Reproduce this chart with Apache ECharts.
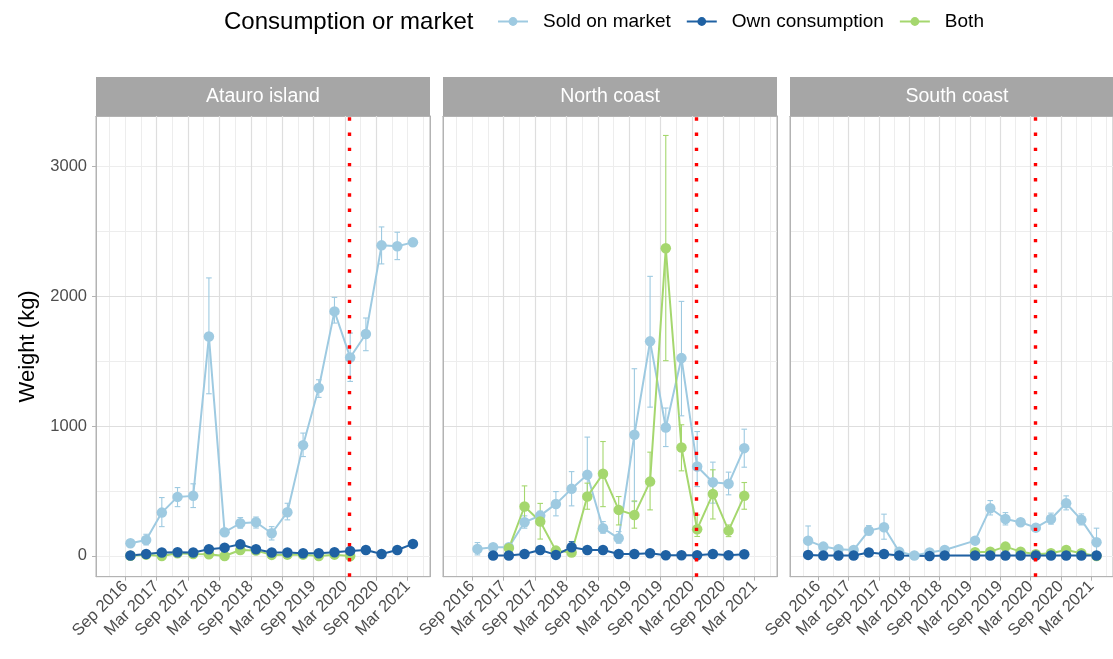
<!DOCTYPE html>
<html>
<head>
<meta charset="utf-8">
<script src="https://cdn.jsdelivr.net/npm/echarts@6/dist/echarts.min.js"></script>
<style>
  html, body { margin: 0; padding: 0; background: #ffffff; }
  #chart { width: 1113px; height: 659px; }
</style>
</head>
<body>
<div id="chart"></div>
<script>
// ---- Data ---------------------------------------------------------------
// Quarterly survey months (first month of each quarter)
const quarters = ['2016-07', '2016-10', '2017-01', '2017-04', '2017-07', '2017-10',
  '2018-01', '2018-04', '2018-07', '2018-10', '2019-01', '2019-04', '2019-07', '2019-10',
  '2020-01', '2020-04', '2020-07', '2020-10', '2021-01', '2021-04'];

const regions = ['Atauro island', 'North coast', 'South coast'];
const groups = ['Sold on market', 'Own consumption', 'Both'];
const tickLabels = ['Sep 2016', 'Mar 2017', 'Sep 2017', 'Mar 2018', 'Sep 2018',
  'Mar 2019', 'Sep 2019', 'Mar 2020', 'Sep 2020', 'Mar 2021'];
const weightTicks = [0, 1000, 2000, 3000];
const eventDate = '2020-03-26';

// Mean weight (kg) per quarter, with lower / upper error limits
const atauroSold = [null, 98, 123, 334, 455, 463, 1692, 183, 252, 260, 175, 337, 854, 1294, 1885, 1530, 1711, 2394, 2387, 2417];
const atauroSoldLow = [null, null, 85, 226, 380, 373, 1250, null, 214, 215, 123, 278, 766, 1222, 1795, 1345, 1582, 2251, 2284, null];
const atauroSoldHigh = [null, null, 167, 450, 527, 556, 2143, null, 296, 300, 226, 406, 947, 1358, 1993, 1718, 1834, 2536, 2495, null];
const atauroOwn = [null, 3, 15, 26, 28, 26, 51, 64, 90, 51, 26, 26, 21, 21, 28, 39, 46, 15, 46, 93];
const atauroOwnLow = [null, null, null, null, null, null, null, null, null, 36, null, null, null, null, null, null, null, null, null, null];
const atauroOwnHigh = [null, null, null, null, null, null, null, null, null, 66, null, null, null, null, null, null, null, null, null, null];
const atauroBoth = [null, 2, 10, 0, 20, 15, 13, 0, 46, 41, 8, 10, 10, 0, 10, 0, null, null, null, null];

const northSold = [null, 54, 67, 67, 260, 311, 401, 517, 625, 214, 136, 934, 1654, 990, 1525, 689, 568, 556, 831, null];
const northSoldLow = [null, 8, null, null, 214, 270, 309, 386, 484, 175, 98, 419, 1147, 843, 1080, 535, 407, 471, 684, null];
const northSoldHigh = [null, 103, null, null, 309, 345, 496, 650, 916, 265, 188, 1443, 2155, 1140, 1962, 959, 723, 646, 977, null];
const northOwn = [null, null, 3, 3, 15, 46, 8, 67, 46, 46, 15, 15, 21, 5, 5, 5, 15, 5, 13, null];
const northOwnLow = [null, null, null, null, null, null, null, 21, null, null, null, null, null, null, null, null, null, null, null, null];
const northOwnHigh = [null, null, null, null, null, null, null, 110, null, null, null, null, null, null, null, null, null, null, null, null];
const northBoth = [null, null, null, 59, 381, 265, 41, 26, 458, 633, 355, 316, 573, 2371, 836, 206, 478, 195, 463, null];
const northBothLow = [null, null, null, null, 230, 130, null, null, 360, 380, 239, 214, 355, 1505, 656, 150, 285, 149, 360, null];
const northBothHigh = [null, null, null, null, 540, 405, null, null, 561, 882, 458, 424, 800, 3241, 1011, 316, 664, 239, 566, null];

const southSold = [118, 72, 51, 46, 195, 221, 33, 3, 26, 46, null, 118, 368, 285, 260, 218, 285, 406, 278, 106];
const southSoldLow = [5, null, null, null, 162, 129, null, null, null, null, null, null, 316, 239, null, null, 245, 355, 239, 0];
const southSoldHigh = [231, null, null, null, 234, 322, null, null, null, null, null, null, 427, 334, null, null, 330, 463, 324, 214];
const southOwn = [8, 3, 3, 3, 26, 15, 3, null, 0, 3, null, 3, 3, 3, 3, 3, 3, 3, 3, 3];
const southBoth = [null, null, null, null, null, null, null, null, null, null, null, 28, 33, 72, 33, 13, 21, 46, 21, 0];

// ---- Layout and style -----------------------------------------------------
const FONT = '"Liberation Sans", Arial, Helvetica, sans-serif';
const colors = { 'Sold on market': '#9ecae1', 'Own consumption': '#1f61a3', 'Both': '#a5d76e' };
const drawOrder = [0, 2, 1];             // Sold, Both, Own (own consumption on top)
const panelLeft = [96, 443, 790];
const panelWidth = 334;
const panelTop = 116;
const panelHeight = 460.7;
const stripTop = 77;
const dateRange = ['2016-03-14', '2021-07-09'];
const weightRange = [-160, 3391];

const panels = [
  { region: regions[0], series: [
    { group: groups[0], mean: atauroSold, low: atauroSoldLow, high: atauroSoldHigh },
    { group: groups[1], mean: atauroOwn, low: atauroOwnLow, high: atauroOwnHigh },
    { group: groups[2], mean: atauroBoth, low: null, high: null } ] },
  { region: regions[1], series: [
    { group: groups[0], mean: northSold, low: northSoldLow, high: northSoldHigh },
    { group: groups[1], mean: northOwn, low: northOwnLow, high: northOwnHigh },
    { group: groups[2], mean: northBoth, low: northBothLow, high: northBothHigh } ] },
  { region: regions[2], series: [
    { group: groups[0], mean: southSold, low: southSoldLow, high: southSoldHigh },
    { group: groups[1], mean: southOwn, low: null, high: null },
    { group: groups[2], mean: southBoth, low: null, high: null } ] }
];

// Months elapsed since March 2016 (fractional for a day of month)
function toMonths(s) {
  const parts = s.split('-').map(Number);
  const y = parts[0], m = parts[1], d = parts[2] || 1;
  const daysInMonth = new Date(y, m, 0).getDate();
  return (y - 2016) * 12 + (m - 3) + (d - 1) / daysInMonth;
}

const tMin = toMonths(dateRange[0]);
const tMax = toMonths(dateRange[1]);
const halfYearTicks = tickLabels.map((_, i) => i + 1);   // in half-years since March 2016

const minorLine = { color: '#ededed', width: 1 };
const majorLine = { color: '#dedede', width: 1.2 };
const borderLine = { color: '#b3b3b3', width: 1 };

function renderErrorBar(params, api) {
  const x = api.value(0);
  const lo = api.coord([x, api.value(1)]);
  const hi = api.coord([x, api.value(2)]);
  const cap = 2.8;
  const style = { stroke: api.visual('color'), lineWidth: 1.1, fill: null };
  return {
    type: 'group',
    children: [
      { type: 'line', shape: { x1: lo[0], y1: lo[1], x2: hi[0], y2: hi[1] }, style: style },
      { type: 'line', shape: { x1: lo[0] - cap, y1: lo[1], x2: lo[0] + cap, y2: lo[1] }, style: style },
      { type: 'line', shape: { x1: hi[0] - cap, y1: hi[1], x2: hi[0] + cap, y2: hi[1] }, style: style }
    ]
  };
}

const grids = [], xAxes = [], yAxes = [], graphics = [];
const lineSeries = [], errorSeries = [], pointSeries = [], eventSeries = [];

panels.forEach((p, r) => {
  const left = panelLeft[r];
  grids.push({ left: left, top: panelTop, width: panelWidth, height: panelHeight,
    show: true, backgroundColor: '#ffffff', borderColor: '#b3b3b3', borderWidth: 1 });

  // quarterly grid (data axis) and half-yearly labelled axis
  xAxes.push({
    type: 'value', gridIndex: r, min: tMin, max: tMax, splitNumber: 20, position: 'top', z: 0,
    axisLine: { show: true, onZero: false, lineStyle: borderLine },
    axisTick: { show: false }, axisLabel: { show: false },
    splitLine: { show: true, showMinLine: false, showMaxLine: false, lineStyle: minorLine }
  });
  xAxes.push({
    type: 'value', gridIndex: r, min: tMin / 6, max: tMax / 6, splitNumber: 10, position: 'bottom', z: 1,
    axisLine: { show: true, onZero: false, lineStyle: borderLine },
    axisTick: { show: true, length: 4, customValues: halfYearTicks, lineStyle: borderLine },
    axisLabel: {
      show: true, customValues: halfYearTicks, rotate: 45, margin: 7,
      fontSize: 16.5, fontFamily: FONT, color: '#4d4d4d',
      formatter: v => tickLabels[Math.round(v) - 1] || ''
    },
    splitLine: { show: true, showMinLine: false, showMaxLine: false, lineStyle: majorLine }
  });

  yAxes.push({
    type: 'value', gridIndex: r, min: weightRange[0], max: weightRange[1], splitNumber: 7, position: 'right', z: 0,
    axisLine: { show: true, onZero: false, lineStyle: borderLine },
    axisTick: { show: false }, axisLabel: { show: false },
    splitLine: { show: true, showMinLine: false, showMaxLine: false, lineStyle: minorLine }
  });
  yAxes.push({
    type: 'value', gridIndex: r, min: weightRange[0], max: weightRange[1], splitNumber: 4, position: 'left', z: 1,
    name: r === 0 ? 'Weight (kg)' : '', nameLocation: 'middle', nameGap: 57,
    nameTextStyle: { fontSize: 22, fontFamily: FONT, color: '#000000' },
    axisLine: { show: true, onZero: false, lineStyle: borderLine },
    axisTick: { show: r === 0, length: 4, customValues: weightTicks, lineStyle: borderLine },
    axisLabel: { show: r === 0, customValues: weightTicks, margin: 9,
      fontSize: 16.5, fontFamily: FONT, color: '#4d4d4d',
      formatter: v => String(Math.round(v)) },
    splitLine: { show: true, showMinLine: false, showMaxLine: false, lineStyle: majorLine }
  });

  // facet strip
  graphics.push({ type: 'rect', z: 10, shape: { x: left, y: stripTop, width: panelWidth, height: panelTop - stripTop },
    style: { fill: '#a6a6a6' } });
  graphics.push({ type: 'text', z: 11, x: left + panelWidth / 2, y: (stripTop + panelTop) / 2 + 0.5,
    style: { text: p.region, fill: '#ffffff', fontSize: 19.5, fontFamily: FONT,
      align: 'center', verticalAlign: 'middle', textAlign: 'center', textVerticalAlign: 'middle' } });

  const xi = 2 * r, yi = 2 * r;
  drawOrder.forEach(g => {
    const s = p.series[g];
    const color = colors[s.group];
    const pts = [];
    const bars = [];
    s.mean.forEach((v, i) => {
      if (v === null) return;
      const t = toMonths(quarters[i]);
      pts.push([t, v]);
      if (s.low && s.low[i] !== null && s.high[i] !== null) bars.push([t, s.low[i], s.high[i]]);
    });
    lineSeries.push({
      type: 'line', name: s.group, xAxisIndex: xi, yAxisIndex: yi, data: pts,
      symbol: 'circle', showSymbol: false, silent: true, z: 2,
      lineStyle: { width: 2, color: color }, itemStyle: { color: color }
    });
    if (bars.length) {
      errorSeries.push({
        type: 'custom', name: s.group, xAxisIndex: xi, yAxisIndex: yi, data: bars,
        encode: { x: 0, y: [1, 2] }, renderItem: renderErrorBar, silent: true, z: 3,
        itemStyle: { color: color }
      });
    }
    pointSeries.push({
      type: 'scatter', name: s.group, xAxisIndex: xi, yAxisIndex: yi, data: pts,
      symbol: 'circle', symbolSize: 10.5, silent: true, z: 4,
      itemStyle: { color: color, opacity: 1 }
    });
  });

  eventSeries.push({
    type: 'line', name: 'Event', xAxisIndex: xi, yAxisIndex: yi, data: [], z: 6, silent: true,
    markLine: {
      silent: true, symbol: ['none', 'none'], label: { show: false }, animation: false,
      lineStyle: { color: '#ff0000', width: 3.4, type: [3.4, 11.8], cap: 'butt', opacity: 1 },
      emphasis: { disabled: true },
      data: [{ xAxis: toMonths(eventDate) }]
    }
  });
});

const chart = echarts.init(document.getElementById('chart'), null, { renderer: 'canvas' });
chart.setOption({
  animation: false,
  backgroundColor: '#ffffff',
  title: {
    text: 'Consumption or market', left: 224, top: 10, padding: 0,
    textStyle: { fontSize: 24, fontWeight: 'normal', fontFamily: FONT, color: '#000000' }
  },
  legend: {
    data: groups, left: 497, top: 12, padding: 0, itemWidth: 30, itemHeight: 11, itemGap: 15,
    selectedMode: false,
    textStyle: { fontSize: 19, fontFamily: FONT, color: '#000000', padding: [0, 0, 0, 10] }
  },
  grid: grids,
  xAxis: xAxes,
  yAxis: yAxes,
  graphic: graphics,
  series: lineSeries.concat(errorSeries, pointSeries, eventSeries)
});
</script>
</body>
</html>
